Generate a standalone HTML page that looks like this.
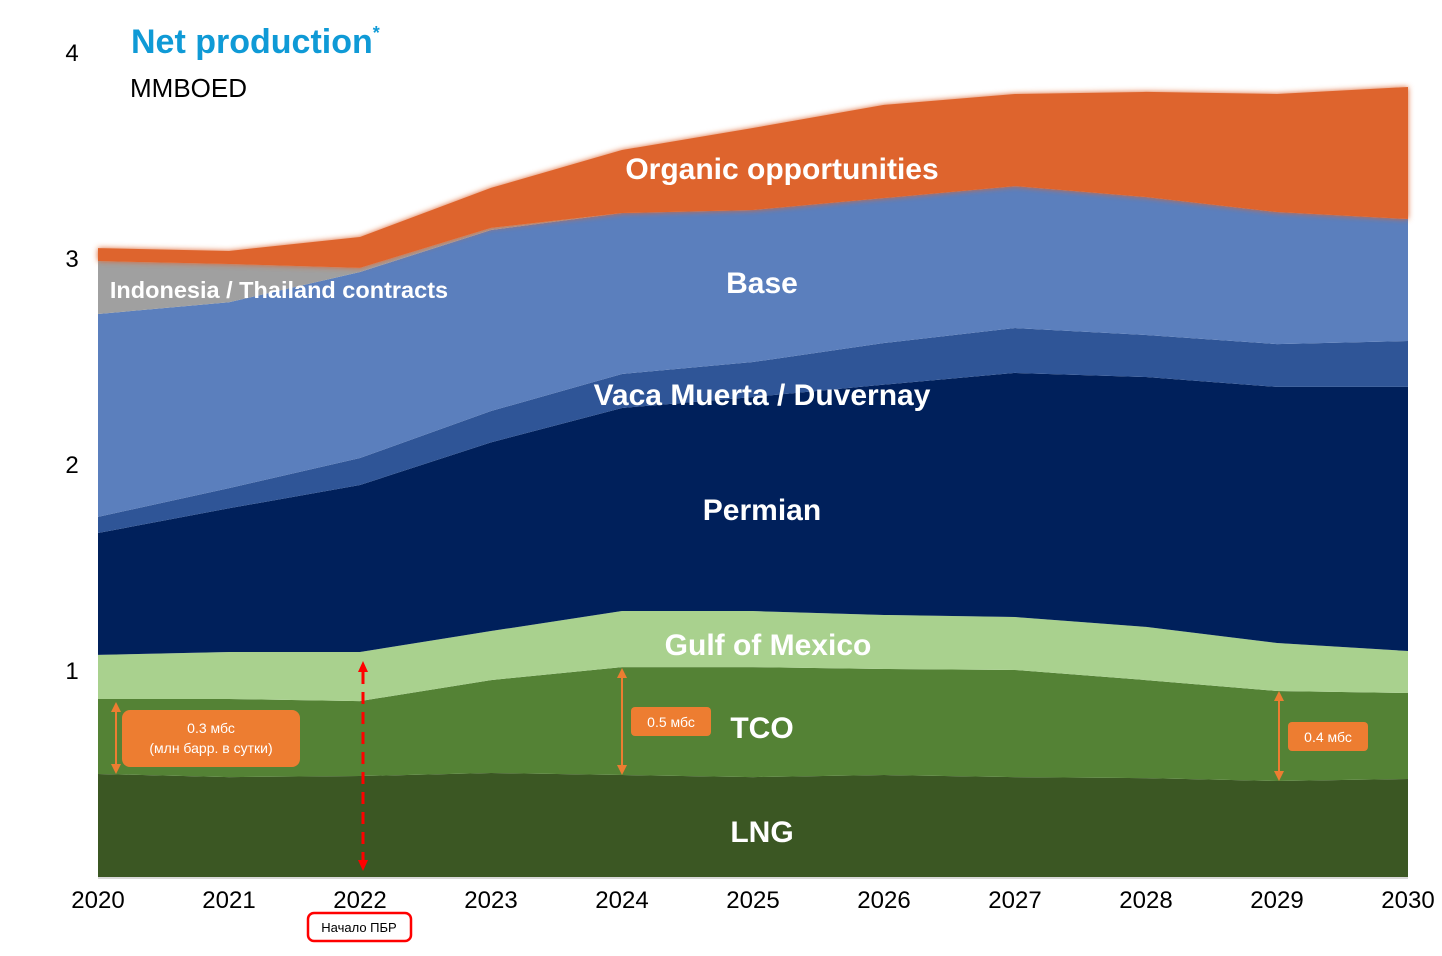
<!DOCTYPE html>
<html><head><meta charset="utf-8">
<style>
html,body{margin:0;padding:0;background:#fff;}
svg{display:block;font-family:"Liberation Sans",sans-serif;}
.lbl{fill:#fff;font-weight:bold;font-size:30px;text-anchor:middle;}
.tick{font-size:24px;fill:#000;}
</style></head><body>
<svg id="chart" width="1442" height="956" viewBox="0 0 1442 956">
<defs><filter id="blur" x="-5%" y="-50%" width="110%" height="200%"><feGaussianBlur stdDeviation="3"/></filter></defs>
<g id="areas"></g>
<g id="yticks"></g>
<g id="xticks"></g>
<text x="131" y="53" font-size="34" font-weight="bold" fill="#0f9ad6">Net production<tspan font-size="18" dy="-14">*</tspan></text>
<text x="130" y="97" font-size="26" fill="#000">MMBOED</text>
<text class="lbl" x="782" y="179">Organic opportunities</text>
<text class="lbl" x="762" y="293">Base</text>
<text class="lbl" x="279" y="298" style="font-size:23.5px">Indonesia /  Thailand contracts</text>
<text class="lbl" x="762" y="405">Vaca Muerta / Duvernay</text>
<text class="lbl" x="762" y="520">Permian</text>
<text class="lbl" x="768" y="655">Gulf of Mexico</text>
<text class="lbl" x="762" y="738">TCO</text>
<text class="lbl" x="762" y="842">LNG</text>
<g>
<line x1="116" y1="706" x2="116" y2="770" stroke="#ed7d31" stroke-width="2"/>
<path d="M111,712 L116,702 L121,712Z M111,764 L116,774 L121,764Z" fill="#ed7d31"/>
<rect x="122" y="710" width="178" height="57" rx="8" fill="#ed7d31"/>
<text x="211" y="733" font-size="14" fill="#fff" text-anchor="middle">0.3 мбс</text>
<text x="211" y="753" font-size="14" fill="#fff" text-anchor="middle">(млн барр. в сутки)</text>
</g>
<g>
<line x1="622" y1="672" x2="622" y2="770" stroke="#ed7d31" stroke-width="2"/>
<path d="M617,678 L622,668 L627,678Z M617,765 L622,775 L627,765Z" fill="#ed7d31"/>
<rect x="631" y="707" width="80" height="29" rx="4" fill="#ed7d31"/>
<text x="671" y="727" font-size="14" fill="#fff" text-anchor="middle">0.5 мбс</text>
</g>
<g>
<line x1="1279" y1="696" x2="1279" y2="776" stroke="#ed7d31" stroke-width="2"/>
<path d="M1274,701 L1279,691 L1284,701Z M1274,771 L1279,781 L1284,771Z" fill="#ed7d31"/>
<rect x="1288" y="722" width="80" height="29" rx="4" fill="#ed7d31"/>
<text x="1328" y="742" font-size="14" fill="#fff" text-anchor="middle">0.4 мбс</text>
</g>
<g>
<line x1="363" y1="672" x2="363" y2="860" stroke="#ff0000" stroke-width="3" stroke-dasharray="12,8"/>
<path d="M358,672 L363,661 L368,672Z M358,860 L363,871 L368,860Z" fill="#ff0000"/>
</g>
<rect x="308" y="913" width="103" height="28" rx="6" fill="#fff" stroke="#ff0000" stroke-width="2.5"/>
<text x="359" y="932" font-size="13" text-anchor="middle" fill="#000">Начало ПБР</text>
</svg>
<script>
const years=[2020,2021,2022,2023,2024,2025,2026,2027,2028,2029,2030];
const yTicks=[1,2,3,4];
const lng=[0.50,0.485,0.49,0.505,0.495,0.485,0.495,0.485,0.48,0.466,0.476];
const tco=[0.364,0.379,0.364,0.451,0.524,0.534,0.515,0.52,0.476,0.437,0.417];
const gom=[0.214,0.228,0.238,0.238,0.272,0.272,0.262,0.257,0.258,0.233,0.204];
const permian=[0.592,0.698,0.811,0.916,0.986,1.039,1.118,1.185,1.213,1.243,1.282];
const vacaMuerta=[0.078,0.098,0.131,0.152,0.165,0.17,0.202,0.218,0.204,0.208,0.223];
const base=[0.985,0.902,0.903,0.879,0.781,0.738,0.704,0.689,0.67,0.641,0.592];
const indonesia=[0.257,0.186,0.02,0.01,0,0,0,0,0,0,0];
const organic=[0.063,0.063,0.15,0.194,0.306,0.398,0.452,0.447,0.51,0.573,0.641];

const X=v=>98+(v-2020)*131;
const Y=v=>877-v*206;
const NS='http://www.w3.org/2000/svg';
function mk(t,a){const e=document.createElementNS(NS,t);for(const k in a)e.setAttribute(k,a[k]);return e;}
function draw(){
  const layers=[[lng,'#3b5723','area-lng'],[tco,'#548235','area-tco'],[gom,'#a9d18e','area-gulf-of-mexico'],[permian,'#00205b','area-permian'],[vacaMuerta,'#2f5597','area-vaca-muerta'],[base,'#5b7fbd','area-base'],[indonesia,'#a0a0a0','area-indonesia'],[organic,'#de642d','area-organic']];
  const g=document.getElementById('areas');
  let cum=years.map(()=>0);
  layers.forEach(([vals,col,name],li)=>{
    const top=cum.map((c,i)=>c+vals[i]);
    let d='M'+years.map((y,i)=>X(y)+','+Y(top[i])).join(' L');
    d+=' L'+years.slice().reverse().map((y,j)=>{const i=years.length-1-j;return X(y)+','+Y(cum[i]);}).join(' L')+'Z';
    const p=mk('path',{d:d,fill:col});
    if(li===layers.length-1){
      const pb=mk('path',{d:d,fill:col,filter:'url(#blur)'});
      
      
      g.appendChild(pb);
    }
    
    
    g.appendChild(p);
    cum=top;
  });
  const yt=document.getElementById('yticks');
  yTicks.forEach(v=>{const t=mk('text',{x:72,y:Y(v)+8,'text-anchor':'middle',class:'tick'});t.textContent=v;
    
    
    yt.appendChild(t);});
  const xt=document.getElementById('xticks');
  const ax=mk('line',{x1:98,x2:1408,y1:878,y2:878,stroke:'#d9d9d9','stroke-width':2});
  
  
  xt.appendChild(ax);
  years.forEach(v=>{const t=mk('text',{x:X(v),y:908,'text-anchor':'middle',class:'tick'});t.textContent=v;
    
    
    xt.appendChild(t);});
}
draw();
</script>
</body></html>
